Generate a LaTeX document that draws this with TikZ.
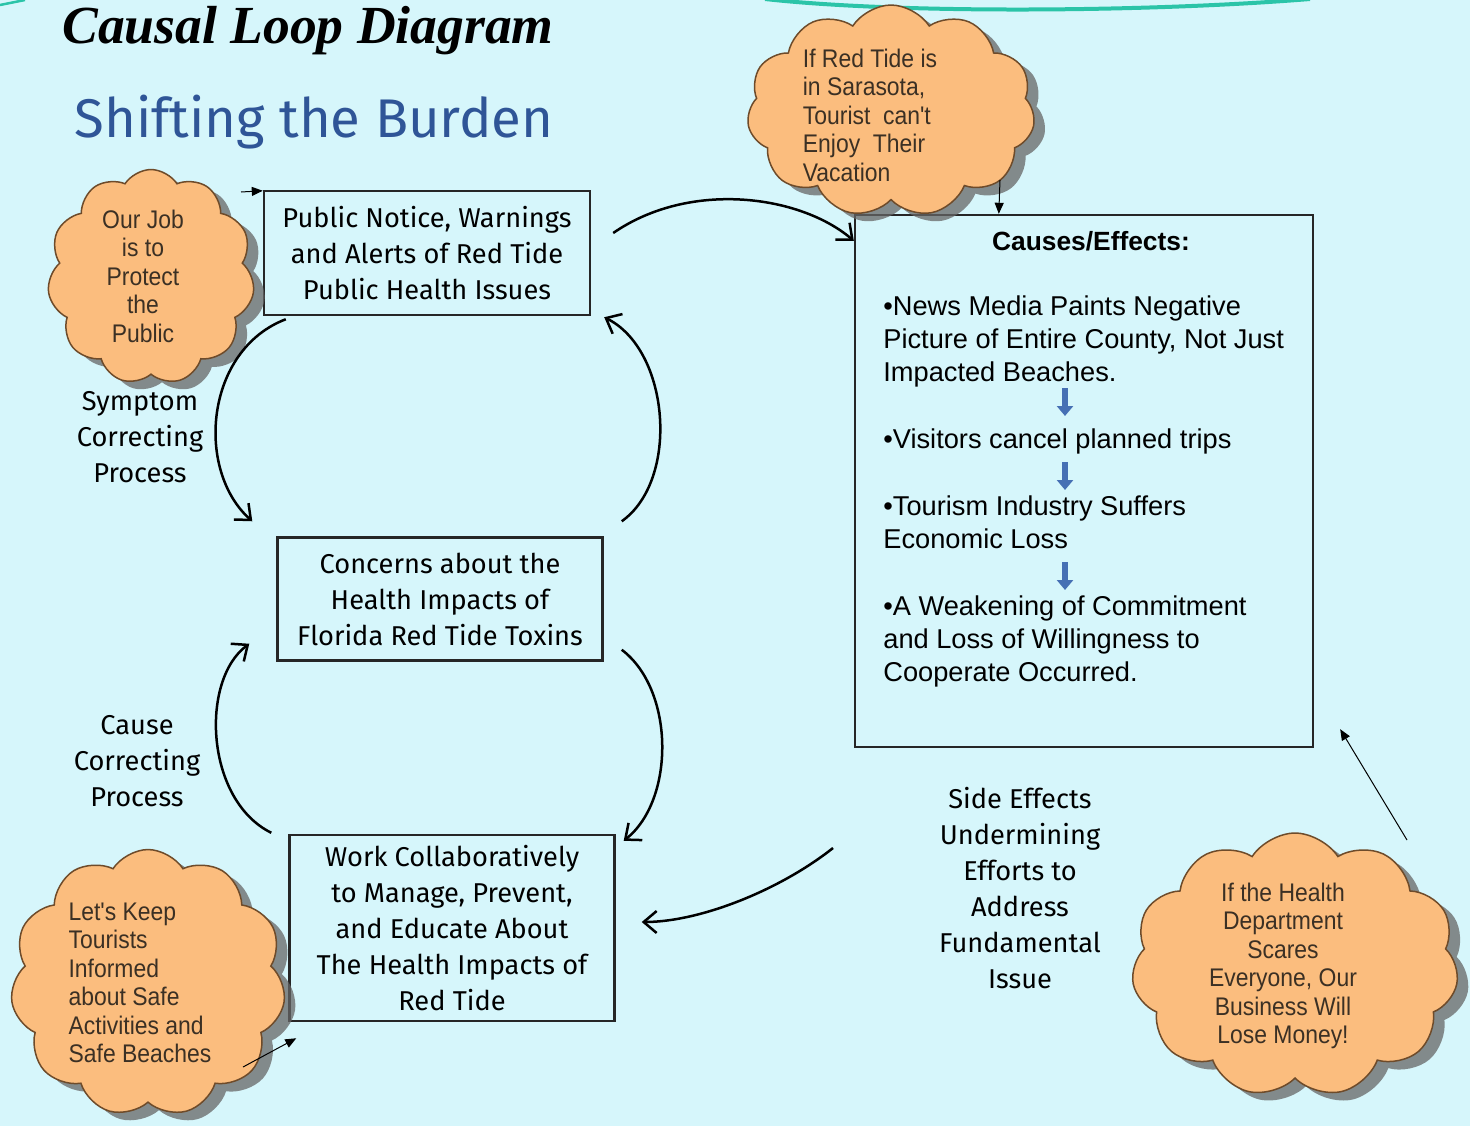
\documentclass[tikz,border=0pt]{standalone}
\usepackage{fontspec}
\setmainfont{Liberation Sans}
\newfontfamily\comicfont{Fira Sans}
\newfontfamily\cloudfont[FakeStretch=0.9]{Liberation Sans}
\newfontfamily\titlefont{Liberation Serif}
\usetikzlibrary{arrows.meta,shapes.symbols,shadows}

\definecolor{slidebg}{HTML}{D6F6FB}
\definecolor{cloudfill}{HTML}{FBBD7E}
\definecolor{cloudline}{HTML}{6E4B2A}
\definecolor{cloudtextcol}{HTML}{3B3024}
\definecolor{burdenblue}{HTML}{2F5597}
\definecolor{stepblue}{HTML}{4670B4}
\definecolor{swooshcol}{HTML}{2BC4A8}

\tikzset{
    loopbox/.style={draw=black!85, line width=0.05cm, inner sep=0pt, align=center,
        font=\comicfont\fontsize{15.5}{20.5}\selectfont},
    looplabel/.style={align=center, font=\comicfont\fontsize{15.5}{20.5}\selectfont},
    thought/.style={cloud, cloud puffs=11, cloud puff arc=115, cloud ignores aspect,
        draw=cloudline, line width=0.03cm, fill=cloudfill, inner sep=0pt,
        drop shadow={shadow xshift=0.22cm, shadow yshift=-0.16cm, fill=black!60, opacity=0.75}},
    cloudtext/.style={text=cloudtextcol, inner sep=0pt,
        font=\cloudfont\fontsize{14.5}{16.2}\selectfont},
    effect/.style={align=left, inner sep=0pt, font=\fontsize{15.5}{19}\selectfont},
    loopflow/.style={line width=0.05cm, -{Straight Barb[length=2.6mm,width=4.4mm]}},
    pointer/.style={line width=0.02cm, -{Triangle[length=2.2mm,width=1.8mm]}},
    steparrow/.style={stepblue, line width=0.12cm, -{Triangle[length=2mm,width=3.2mm]}},
    swoosh/.style={swooshcol, line width=0.08cm}
}

\begin{document}
\begin{tikzpicture}[x=0.02cm, y=-0.02cm]
    \useasboundingbox (0, 0) rectangle (1470, 1126);
    \fill[slidebg] (0, 0) rectangle (1470, 1126);
    \draw[swoosh] (765, -1) .. controls (900, 14) and (1150, 12) .. (1310, -1);
    \draw[swoosh, line width=0.05cm] (0, 5) -- (25, 0);

    % titles
    \node[anchor=base west, inner sep=0pt, font=\titlefont\bfseries\itshape\fontsize{30.5}{34}\selectfont] (cld) at (62, 43) {Causal Loop Diagram};
    \node[text=burdenblue, font=\comicfont\fontsize{31}{34}\selectfont] (burden) at (314, 122) {Shifting the Burden};

    % the three loop boxes
    \node[loopbox, minimum width=6.52cm, minimum height=2.48cm] (notice) at (427, 253) {Public Notice, Warnings\\and Alerts of Red Tide\\Public Health Issues};
    \node[loopbox, minimum width=6.5cm, minimum height=2.46cm] (concern) at (440, 599) {Concerns about the\\Health Impacts of\\Florida Red Tide Toxins};
    \node[loopbox, minimum width=6.5cm, minimum height=3.72cm] (work) at (452, 928) {Work Collaboratively\\to Manage, Prevent,\\and Educate About\\The Health Impacts of\\Red Tide};

    \node[looplabel] (symptom) at (140, 437) {Symptom\\Correcting\\Process};
    \node[looplabel] (cause) at (137, 761) {Cause\\Correcting\\Process};
    \node[looplabel] (sidefx) at (1020, 888) {Side Effects\\Undermining\\Efforts to\\Address\\Fundamental\\Issue};

    % causes and effects
    \node[draw=black!85, line width=0.05cm, minimum width=9.16cm, minimum height=10.64cm] (causes) at (1084, 481) {};
    \node[font=\bfseries\fontsize{15}{18}\selectfont] (cetitle) at (1091, 241) {Causes/Effects:};
    \node[effect, anchor=north west] (news) at (883, 295) {•News Media Paints Negative\\Picture of Entire County, Not Just\\Impacted Beaches.};
    \node[effect, anchor=north west] (visitors) at (883, 428) {•Visitors cancel planned trips};
    \node[effect, anchor=north west] (tourism) at (883, 495) {•Tourism Industry Suffers\\Economic Loss};
    \node[effect, anchor=north west] (weaken) at (883, 595) {•A Weakening of Commitment\\and Loss of Willingness to\\Cooperate Occurred.};
    \draw[steparrow] (1065, 388) -- (1065, 416);
    \draw[steparrow] (1065, 462) -- (1065, 490);
    \draw[steparrow] (1065, 562) -- (1065, 590);

    % clouds
    \node[thought, minimum width=4.14cm, minimum height=4.3cm] (job) at (151, 277) {};
    \node[cloudtext, align=center] (jobtxt) at (143, 276) {Our Job\\is to\\Protect\\the\\Public};
    \node[thought, minimum width=5.76cm, minimum height=4.24cm] (sarasota) at (891, 111) {};
    \node[cloudtext, align=left] (sarasotatxt) at (870, 115) {If Red Tide is\\in Sarasota,\\Tourist\ \ can't\\Enjoy\ \ Their\\Vacation};
    \node[thought, minimum width=5.5cm, minimum height=5.34cm] (keep) at (148, 983) {};
    \node[cloudtext, align=left] (keeptxt) at (140, 983) {Let's Keep\\Tourists\\Informed\\about Safe\\Activities and\\Safe Beaches};
    \node[thought, minimum width=6.54cm, minimum height=5.28cm] (scare) at (1295, 965) {};
    \node[cloudtext, align=center] (scaretxt) at (1283, 966) {If the Health\\Department\\Scares\\Everyone, Our\\Business Will\\Lose Money!};

    % loops
    \draw[loopflow] ([shift={(22,-20)}]notice.east) .. controls (690, 180) and (800, 195) .. ([shift={(0,27)}]causes.north west);
    \draw[loopflow] ([shift={(23,3)}]notice.south west) .. controls (205, 350) and (195, 470) .. ([shift={(-24,-15)}]concern.north west);
    \draw[loopflow] ([shift={(18,-15)}]concern.north east) .. controls (680, 480) and (670, 350) .. ([shift={(13,1)}]notice.south east);
    \draw[loopflow] ([shift={(-17,-1)}]work.north west) .. controls (205, 800) and (200, 680) .. ([shift={(-27,-18)}]concern.south west);
    \draw[loopflow] ([shift={(18,-12)}]concern.south east) .. controls (675, 690) and (675, 800) .. ([shift={(8,7)}]work.north east);
    \coordinate (sidetail) at (833, 848);
    \draw[loopflow] (sidetail) .. controls (780, 890) and (700, 922) .. ([shift={(26,-6)}]work.east);

    % from the clouds
    \coordinate (jobtail) at (241, 192);
    \coordinate (sarasotatail) at (1000, 180);
    \coordinate (keeptail) at (243, 1067);
    \coordinate (scaretail) at (1407, 840);
    \draw[pointer] (jobtail) -- ([shift={(0,1)}]notice.north west);
    \draw[pointer] (sarasotatail) -- ([shift={(145,0)}]causes.north west);
    \draw[pointer] (keeptail) -- ([shift={(8,16)}]work.south west);
    \draw[pointer] (scaretail) -- ([shift={(26,-19)}]causes.south east);
\end{tikzpicture}
\end{document}
